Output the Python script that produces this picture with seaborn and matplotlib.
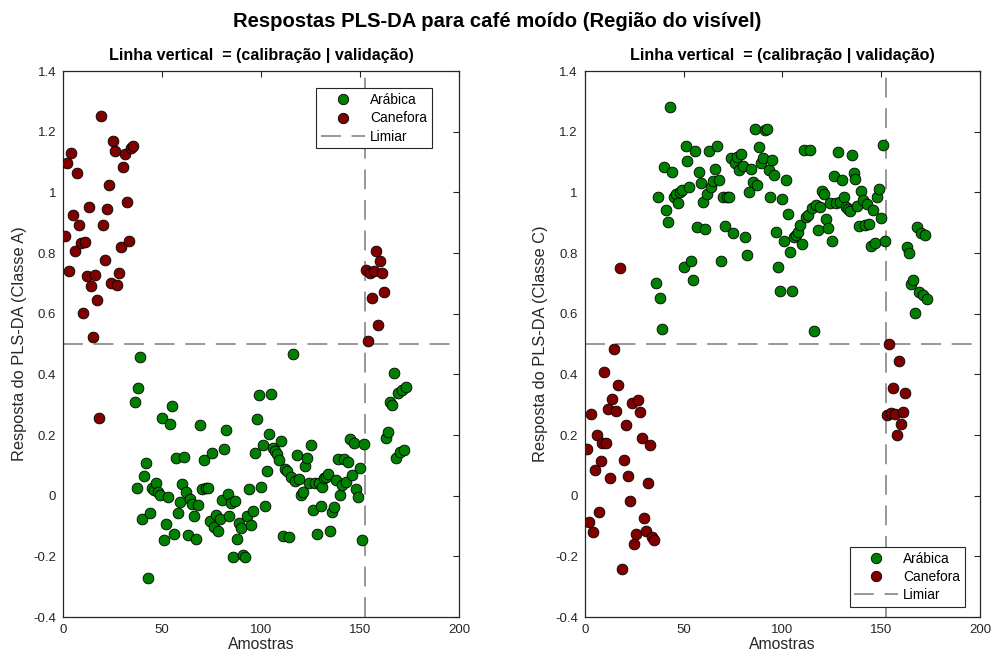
import numpy as np
import pandas as pd
import matplotlib
matplotlib.use("Agg")
import matplotlib.pyplot as plt
from matplotlib.lines import Line2D
from matplotlib.ticker import FuncFormatter
import seaborn as sns

# ---- Respostas PLS-DA por amostra (1..173) ----
# Classe A (Canefora = 1, Arábica = 0)
resp_A_canefora_cal = [0.857, 1.097, 0.74, 1.129, 0.924, 0.808, 1.063, 0.892, 0.834, 0.601,
                       0.835, 0.725, 0.951, 0.691, 0.523, 0.729, 0.644, 0.257, 1.25, 0.892,
                       0.776, 0.944, 1.025, 0.702, 1.168, 1.137, 0.694, 0.733, 0.82, 1.084,
                       1.127, 0.967, 0.84, 1.145, 1.154]
resp_A_arabica_cal = [0.308, 0.025, 0.356, 0.458, -0.077, 0.066, 0.107, -0.271, -0.058, 0.026,
                      0.02, 0.041, 0.011, 0.002, 0.255, -0.145, -0.093, -0.005, 0.235, 0.297,
                      -0.126, 0.124, -0.057, -0.021, 0.04, 0.128, 0.011, -0.13, -0.011, -0.027,
                      -0.067, -0.143, -0.031, 0.234, 0.022, 0.119, 0.026, 0.025, -0.083, 0.141,
                      -0.102, -0.065, -0.115, -0.076, -0.013, 0.155, 0.216, 0.007, -0.067, -0.023,
                      -0.202, -0.017, -0.142, -0.089, -0.106, -0.197, -0.202, -0.066, 0.023, -0.098,
                      -0.049, 0.14, 0.252, 0.333, 0.03, 0.168, -0.033, 0.081, 0.203, 0.334,
                      0.156, 0.148, 0.137, 0.118, 0.179, -0.134, 0.088, 0.082, -0.135, 0.063,
                      0.466, 0.049, 0.134, 0.056, 0.003, 0.013, 0.098, 0.125, 0.043, 0.168,
                      -0.047, 0.043, -0.125, 0.041, -0.033, 0.028, 0.058, 0.063, 0.072, -0.115,
                      -0.055, -0.037, 0.053, 0.12, 0.003, 0.036, 0.12, 0.046, 0.11, 0.188,
                      0.067, 0.173, 0.023, -0.003, 0.091, -0.147, 0.169]
resp_A_canefora_val = [0.743, 0.51, 0.735, 0.653, 0.74, 0.808, 0.563, 0.773, 0.735, 0.671]
resp_A_arabica_val = [0.189, 0.21, 0.309, 0.298, 0.403, 0.123, 0.34, 0.144, 0.347, 0.15, 0.359]

# Classe C (Arábica = 1, Canefora = 0)
resp_C_canefora_cal = [0.153, -0.088, 0.268, -0.12, 0.084, 0.2, -0.054, 0.114, 0.173, 0.407,
                       0.173, 0.285, 0.058, 0.318, 0.484, 0.28, 0.365, 0.75, -0.241, 0.117,
                       0.232, 0.065, -0.018, 0.307, -0.159, -0.126, 0.314, 0.276, 0.189, -0.075,
                       -0.117, 0.042, 0.168, -0.136, -0.145]
resp_C_arabica_cal = [0.7, 0.985, 0.651, 0.551, 1.084, 0.943, 0.901, 1.281, 1.067, 0.986,
                      0.994, 0.966, 1.001, 1.008, 0.754, 1.153, 1.102, 1.016, 0.773, 0.711,
                      1.136, 0.885, 1.066, 1.03, 0.968, 0.88, 0.996, 1.137, 1.019, 1.038,
                      1.076, 1.152, 1.04, 0.774, 0.985, 0.89, 0.983, 0.983, 1.112, 0.867,
                      1.096, 1.118, 1.074, 1.126, 1.086, 0.854, 0.794, 1.001, 1.076,
                      1.035, 1.21, 1.023, 1.15, 1.098, 1.113, 1.205, 1.209, 1.074, 0.984,
                      1.107, 1.057, 0.868, 0.755, 0.675, 0.978, 0.84, 1.042, 0.928, 0.803,
                      0.675, 0.853, 0.86, 0.868, 0.892, 0.83, 1.141, 0.92, 0.925, 1.141,
                      0.948, 0.543, 0.958, 0.875, 0.952, 1.005, 0.994, 0.911, 0.884, 0.964,
                      0.841, 1.055, 0.965, 1.134, 0.968, 1.042, 0.984, 0.952, 0.944, 0.938,
                      1.123, 1.065, 1.045, 0.955, 0.89, 1.005, 0.974, 0.892, 0.962, 0.897,
                      0.822, 0.941, 0.833, 0.986, 1.011, 0.917, 1.155, 0.84]
resp_C_canefora_val = [0.266, 0.499, 0.272, 0.354, 0.27, 0.2, 0.444, 0.235, 0.275, 0.339]
resp_C_arabica_val = [0.82, 0.799, 0.699, 0.71, 0.603, 0.886, 0.671, 0.865, 0.663, 0.86, 0.65]

limiar = 0.5
fim_calibracao = 152.5
y_ticks = [-0.4, -0.2, 0, 0.2, 0.4, 0.6, 0.8, 1.0, 1.2, 1.4]
x_ticks = [0, 50, 100, 150, 200]

classes = (["Canefora"] * len(resp_A_canefora_cal) + ["Arábica"] * len(resp_A_arabica_cal)
           + ["Canefora"] * len(resp_A_canefora_val) + ["Arábica"] * len(resp_A_arabica_val))
n = len(classes)
df = pd.DataFrame({
    "Amostra": np.arange(1, n + 1),
    "Classe": classes,
    "RespA": resp_A_canefora_cal + resp_A_arabica_cal + resp_A_canefora_val + resp_A_arabica_val,
})
respC = resp_C_canefora_cal + resp_C_arabica_cal + resp_C_canefora_val + resp_C_arabica_val
df["RespC"] = respC[:n] + [np.nan] * max(0, n - len(respC))

cores = {"Arábica": "#008000", "Canefora": "#800000"}
cor_limiar = "#7a7a7a"
traco = (0, (13, 7))
cinza_eixo = "#262626"

sns.set_theme(style="white")
plt.rcParams["font.family"] = ["Liberation Sans", "DejaVu Sans"]

fig = plt.figure(figsize=(9.94, 6.63), dpi=100)
W, H = 994, 663
ax1 = fig.add_axes([63.3 / W, 1 - 617 / H, 395.7 / W, 546 / H])
ax2 = fig.add_axes([584.7 / W, 1 - 617 / H, 395.3 / W, 546 / H])


def painel(ax, coluna, rotulo_y):
    for classe in ["Arábica", "Canefora"]:
        sub = df[df["Classe"] == classe]
        sns.scatterplot(data=sub, x="Amostra", y=coluna, ax=ax, color=cores[classe],
                        s=60, edgecolor="black", linewidth=0.6, legend=False, zorder=3)
    ax.axhline(limiar, color=cor_limiar, lw=1.1, ls=traco, zorder=2)
    ax.axvline(fim_calibracao, color=cor_limiar, lw=1.1, ls=traco, zorder=2)
    ax.set_xlim(0, 200)
    ax.set_ylim(-0.4, 1.4)
    ax.set_xticks(x_ticks)
    ax.set_yticks(y_ticks)
    ax.yaxis.set_major_formatter(FuncFormatter(lambda v, p: f"{v:g}"))
    ax.tick_params(direction="in", length=4, width=0.8, top=True, right=True,
                   labelsize=9.5, pad=5, colors=cinza_eixo)
    for sp in ax.spines.values():
        sp.set_linewidth(0.9)
        sp.set_color(cinza_eixo)
    ax.set_xlabel("Amostras", fontsize=11.3, color=cinza_eixo, labelpad=1)
    ax.set_ylabel(rotulo_y, fontsize=11.8, color=cinza_eixo, labelpad=5)
    ax.set_title("Linha vertical  = (calibração | validação)", fontsize=11.6,
                 fontweight="bold", color="black", pad=8)


painel(ax1, "RespA", "Resposta do PLS-DA (Classe A)")
painel(ax2, "RespC", "Resposta do PLS-DA (Classe C)")

handles = [
    Line2D([], [], marker="o", ls="none", markerfacecolor=cores["Arábica"],
           markeredgecolor="black", markeredgewidth=0.6, markersize=7.5, label="Arábica"),
    Line2D([], [], marker="o", ls="none", markerfacecolor=cores["Canefora"],
           markeredgecolor="black", markeredgewidth=0.6, markersize=7.5, label="Canefora"),
    Line2D([], [], color=cor_limiar, lw=1.1, ls=(0, (13, 7)), label="Limiar"),
]
leg_kw = dict(handles=handles, fontsize=9.9, frameon=True, fancybox=False, framealpha=1,
              edgecolor=cinza_eixo, handlelength=3.2, handletextpad=0.35, borderpad=0.35,
              labelspacing=0.3, borderaxespad=0)
l1 = ax1.legend(loc="upper right", bbox_to_anchor=(0.931, 0.968), **leg_kw)
l2 = ax2.legend(loc="lower right", bbox_to_anchor=(0.962, 0.019), **leg_kw)
for lg in (l1, l2):
    lg.get_frame().set_linewidth(0.8)
    for t in lg.get_texts():
        t.set_color("black")

fig.suptitle("Respostas PLS-DA para café moído (Região do visível)", fontsize=14.6,
             fontweight="bold", color="black", y=0.982)

fig.savefig("out.png", dpi=100)
